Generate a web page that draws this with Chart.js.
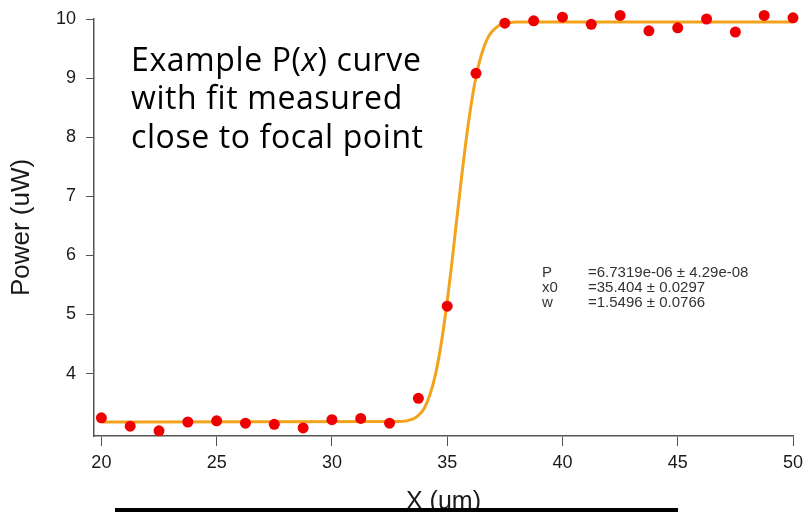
<!DOCTYPE html>
<html>
<head>
<meta charset="utf-8">
<script src="https://cdn.jsdelivr.net/npm/chart.js@4/dist/chart.umd.min.js"></script>
<style>
  html, body { margin: 0; padding: 0; background: #ffffff; }
  #wrap { width: 803px; height: 512px; position: relative; }
</style>
</head>
<body>
<div id="wrap"><canvas id="c" width="803" height="512"></canvas></div>
<script>
// ---- data ----
const measX = [20, 21.25, 22.5, 23.75, 25, 26.25, 27.5, 28.75, 30, 31.25, 32.5, 33.75, 35,
               36.25, 37.5, 38.75, 40, 41.25, 42.5, 43.75, 45, 46.25, 47.5, 48.75, 50];
const measP = [3.25, 3.11, 3.03, 3.18, 3.20, 3.16, 3.14, 3.08, 3.22, 3.24, 3.16, 3.58, 5.14,
               9.08, 9.93, 9.97, 10.03, 9.91, 10.06, 9.80, 9.85, 10.00, 9.78, 10.06, 10.02];
const fitX = [20, 33, 33.5, 33.75, 34, 34.25, 34.5, 34.75, 35, 35.2, 35.4, 35.6, 35.8, 36.0,
              36.2, 36.4, 36.6, 36.8, 37, 37.25, 37.5, 37.75, 38, 50];
const fitP = [3.18, 3.19, 3.23, 3.29, 3.41, 3.64, 4.00, 4.53, 5.22, 5.86, 6.56, 7.24, 7.89, 8.45,
              8.92, 9.28, 9.53, 9.71, 9.81, 9.89, 9.93, 9.94, 9.95, 9.95];
const xTicks = [20, 25, 30, 35, 40, 45, 50];
const yTicks = [4, 5, 6, 7, 8, 9, 10];
const xTitle = "X (um)";
const yTitle = "Power (uW)";
const fitParamNames = ["P", "x0", "w"];
const fitParamValues = ["=6.7319e-06 \u00b1 4.29e-08", "=35.404 \u00b1 0.0297", "=1.5496 \u00b1 0.0766"];

const pts = measX.map((x, i) => ({ x: x, y: measP[i] }));
const fit = fitX.map((x, i) => ({ x: x, y: fitP[i] }));

const axisColor = '#555555';
const sans = '"Liberation Sans", Arial, sans-serif';

const overlay = {
  id: 'overlay',
  afterDraw(chart) {
    const ctx = chart.ctx;
    ctx.save();
    // annotation text
    ctx.fillStyle = '#000000';
    ctx.textBaseline = 'alphabetic';
    ctx.textAlign = 'left';
    try { ctx.letterSpacing = '0.6px'; } catch (e) {}
    const big = 32;
    const normal = big + 'px "Open Sans", sans-serif';
    const ital = 'italic ' + big + 'px "Open Sans", sans-serif';
    let x = 131, y = 71;
    const parts = [["Example P(", normal], ["x", ital], [") curve", normal]];
    for (const [t, f] of parts) { ctx.font = f; ctx.fillText(t, x, y); x += ctx.measureText(t).width; }
    ctx.font = normal;
    ctx.fillText("with fit measured", 131, 109);
    ctx.fillText("close to focal point", 131, 148);
    try { ctx.letterSpacing = '0px'; } catch (e) {}

    // fit parameters
    ctx.font = '15px ' + sans;
    ctx.fillStyle = '#333333';
    const base = [277, 292, 307];
    for (let i = 0; i < fitParamNames.length; i++) {
      ctx.fillText(fitParamNames[i], 542, base[i]);
      ctx.fillText(fitParamValues[i], 588, base[i]);
    }

    // black bar at the bottom
    ctx.fillStyle = '#000000';
    ctx.fillRect(115, 508, 563, 4);
    ctx.restore();
  }
};

new Chart(document.getElementById('c'), {
  type: 'scatter',
  data: {
    datasets: [
      {
        label: 'Measured',
        data: pts,
        showLine: false,
        clip: false,
        pointRadius: 5.5,
        pointHoverRadius: 5.5,
        pointBackgroundColor: '#ee0000',
        pointBorderColor: '#ee0000',
        pointBorderWidth: 0
      },
      {
        label: 'Fit',
        data: fit,
        showLine: true,
        clip: false,
        pointRadius: 0,
        borderColor: '#f2a31b',
        borderWidth: 3,
        cubicInterpolationMode: 'monotone',
        fill: false
      }
    ]
  },
  options: {
    responsive: false,
    animation: false,
    devicePixelRatio: 1,
    layout: { padding: { top: 19, right: 10, left: 0, bottom: 0 } },
    plugins: { legend: { display: false }, tooltip: { enabled: false } },
    scales: {
      x: {
        type: 'linear',
        min: 19.68,
        max: 50,
        afterBuildTicks: s => { s.ticks = xTicks.map(v => ({ value: v })); },
        afterFit: s => { s.height = 76; s.paddingRight = 0; s.paddingLeft = 0; },
        grid: { display: true, drawOnChartArea: false, drawTicks: true, tickLength: 10, color: axisColor, lineWidth: 1 },
        border: { display: true, color: axisColor, width: 1.5 },
        ticks: { color: '#1a1a1a', font: { family: sans, size: 18 }, padding: 6, maxRotation: 0 },
        title: { display: true, text: xTitle, color: '#1a1a1a', font: { family: sans, size: 25, lineHeight: 1 }, padding: { top: 0, bottom: -3 } }
      },
      y: {
        type: 'linear',
        min: 2.943,
        max: 10,
        afterBuildTicks: s => { s.ticks = yTicks.map(v => ({ value: v })); },
        afterFit: s => { s.width = 94; s.paddingTop = 0; s.paddingBottom = 0; },
        grid: { display: true, drawOnChartArea: false, drawTicks: true, tickLength: 8, color: axisColor, lineWidth: 1 },
        border: { display: true, color: axisColor, width: 1.5 },
        ticks: { color: '#1a1a1a', font: { family: sans, size: 18 }, padding: 10 },
        title: { display: true, text: yTitle, color: '#1a1a1a', font: { family: sans, size: 26, lineHeight: 1 }, padding: { top: 9, bottom: 0 } }
      }
    }
  },
  plugins: [overlay]
});
</script>
</body>
</html>
